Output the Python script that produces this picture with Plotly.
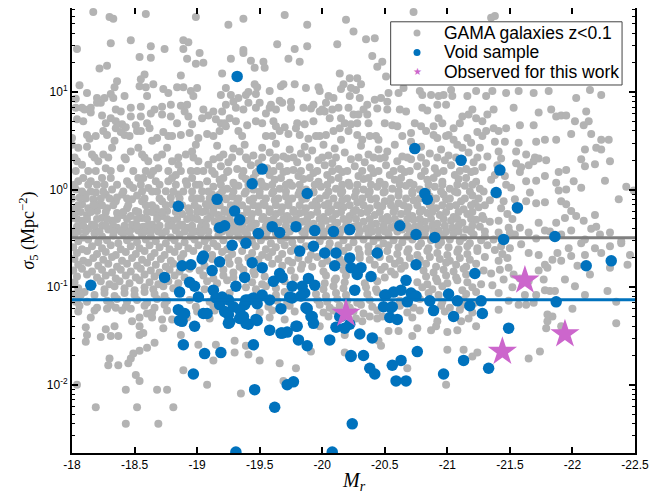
import plotly.graph_objects as go

# ---------------- data (M_r , log10 sigma_5) ----------------
gama_top_left = [
    (-18.17,1.82),(-18.30,1.77),(-18.33,1.75),(-18.59,1.80),(-18.99,1.77),
    (-18.04,1.44),(-18.31,1.50),(-18.47,1.53),(-18.63,1.47),(-18.74,1.44),(-18.89,1.53),(-18.93,1.51),(-18.89,1.44),(-19.02,1.40),
    (-18.54,1.36),(-18.63,1.35),(-18.92,1.34),(-18.99,1.29),(-19.05,1.30),(-18.22,1.24),(-18.28,1.27),
    (-18.58,1.18),(-18.55,1.13),(-18.87,1.17),(-18.36,1.11),(-18.34,1.05),(-18.59,1.05),(-18.65,1.08),(-18.06,1.07),
    (-18.12,0.99),(-18.20,0.94),(-18.23,0.89),(-18.26,0.94),(-18.31,0.98),(-18.33,0.94),(-18.42,0.96),(-18.54,1.06),(-18.60,0.96),
    (-18.73,1.03),(-18.77,0.99),(-18.84,1.05),(-18.89,1.05),(-18.95,1.01),(-19.00,1.04),(-18.97,0.96),
    (-18.03,0.93),(-18.03,0.84),(-18.08,0.84),(-18.15,0.84),(-18.15,0.79),(-18.20,0.89),(-18.24,0.76),(-18.31,0.73),(-18.35,0.70),
    (-18.39,0.80),(-18.40,0.67),(-18.43,0.64),(-18.47,0.84),(-18.47,0.75),(-18.55,0.85),(-18.55,0.75),(-18.63,0.78),(-18.72,0.85),
    (-18.72,0.77),(-18.79,0.87),(-18.79,0.75),(-18.87,0.86),(-18.90,0.80),(-18.92,0.87),(-18.93,0.75),(-18.96,0.67),(-19.04,0.73),
    (-19.09,0.76),(-18.04,0.72),(-18.09,0.70),
    (-18.00,0.53),(-18.12,0.56),(-18.14,0.52),(-18.25,0.60),(-18.28,0.56),(-18.34,0.50),(-18.35,0.63),(-18.39,0.59),(-18.42,0.56),
    (-18.51,0.66),(-18.52,0.60),(-18.55,0.60),(-18.62,0.63),(-18.64,0.50),(-18.68,0.53),(-18.73,0.59),(-18.80,0.55),(-18.87,0.56),
    (-18.94,0.58),(-18.99,0.46),(-19.01,0.53),(-19.08,0.57),
]
gama_top_mid = [
    (-19.25,1.69),(-19.37,1.75),(-19.70,1.79),(-19.88,1.69),(-20.19,1.74),(-20.25,1.62),
    (-19.64,1.49),(-19.78,1.44),(-19.88,1.47),(-20.12,1.49),(-19.37,1.43),(-19.37,1.40),(-19.27,1.34),(-19.43,1.32),(-19.53,1.31),
    (-19.54,1.25),(-19.46,1.25),(-19.73,1.34),(-19.82,1.31),
    (-19.20,1.19),(-20.14,1.19),(-20.22,1.14),(-20.17,1.08),(-19.23,1.04),(-19.19,0.97),(-19.27,0.97),(-19.33,0.94),(-19.39,0.97),
    (-19.41,1.00),(-19.46,1.08),(-19.48,1.05),(-19.47,0.98),(-19.58,1.01),(-19.67,1.06),(-19.69,1.08),(-19.78,1.08),(-19.87,1.04),
    (-19.97,1.05),(-19.98,1.01),(-20.05,0.96),(-20.15,1.03),(-20.23,1.04),(-20.22,0.96),(-20.09,0.94),
    (-19.23,0.87),(-19.20,0.80),(-19.29,0.90),(-19.31,0.84),(-19.41,0.89),(-19.47,0.84),(-19.50,0.89),(-19.58,0.84),(-19.59,0.87),
    (-19.66,0.91),(-19.68,0.89),(-19.75,0.90),(-19.75,0.84),(-19.85,0.84),(-19.91,0.83),(-19.93,0.87),(-19.98,0.80),(-20.02,0.80),
    (-20.03,0.89),(-20.08,0.82),(-20.06,0.73),(-20.13,0.84),(-20.15,0.73),(-20.21,0.84),(-20.25,0.77),
    (-19.13,0.80),(-19.15,0.72),(-19.19,0.68),(-19.26,0.73),(-19.23,0.65),(-19.18,0.60),(-19.31,0.70),(-19.33,0.60),(-19.40,0.66),
    (-19.47,0.70),(-19.55,0.78),(-19.61,0.70),(-19.63,0.65),(-19.55,0.55),(-19.66,0.60),(-19.70,0.64),(-19.73,0.57),(-19.79,0.63),
    (-19.82,0.56),(-19.86,0.67),(-19.89,0.52),(-19.93,0.70),(-19.98,0.55),(-20.03,0.56),(-20.09,0.60),(-20.14,0.63),(-20.15,0.51),
    (-20.21,0.60),(-20.23,0.67),
]
gama_top_right = [
    (-20.35,1.54),(-20.42,1.55),(-20.73,1.82),(-21.35,1.76),(-21.38,1.78),(-20.40,1.37),(-20.44,1.26),(-20.48,1.31),(-20.51,1.16),
    (-20.28,1.14),(-20.31,1.08),(-20.27,1.02),(-20.30,0.94),(-20.36,0.87),(-20.42,0.92),(-20.47,0.94),(-20.53,0.99),(-20.61,0.99),
    (-20.65,1.04),(-20.78,1.01),(-20.80,0.97),(-20.87,0.97),(-20.93,0.96),(-20.97,0.97),(-21.03,1.02),(-21.04,0.96),(-21.16,0.96),
    (-21.23,1.01),(-21.31,0.96),(-21.36,1.01),
    (-20.52,0.90),(-20.44,0.83),(-20.52,0.82),(-20.36,0.77),(-20.29,0.77),(-20.67,0.80),(-20.80,0.84),(-20.84,0.81),(-20.93,0.73),
    (-20.92,0.87),(-20.99,0.87),(-21.12,0.75),(-21.17,0.77),(-21.23,0.73),(-21.28,0.70),(-21.32,0.77),(-21.37,0.82),
    (-20.28,0.68),(-20.37,0.68),(-20.56,0.66),(-20.60,0.65),(-20.79,0.65),(-20.89,0.65),(-20.96,0.68),(-21.05,0.63),(-21.24,0.59),
    (-21.31,0.60),(-21.37,0.63),(-20.28,0.56),(-20.32,0.51),(-20.43,0.55),(-20.45,0.51),(-20.71,0.58),(-20.71,0.49),(-20.83,0.60),
    (-20.89,0.56),(-20.92,0.53),(-21.01,0.56),(-21.05,0.51),(-21.16,0.53),(-21.19,0.48),(-21.12,0.43),
    (-21.47,0.99),(-21.57,1.01),(-21.69,0.99),(-21.81,1.01),(-22.03,0.94),(-22.14,1.02),(-22.23,0.97),
    (-21.53,0.84),(-21.73,0.79),(-21.83,0.82),(-21.87,0.75),(-21.91,0.76),(-21.95,0.76),(-22.02,0.70),(-22.09,0.66),(-22.13,0.70),
    (-22.11,0.80),(-21.41,0.60),(-21.47,0.63),(-21.58,0.66),(-21.69,0.66),(-21.99,0.57),(-22.15,0.57),(-22.23,0.51),(-22.29,0.51),
    (-21.38,0.49),(-21.46,0.49),(-21.57,0.48),(-21.71,0.49),(-21.78,0.51),(-21.87,0.51),(-22.10,0.41),(-22.19,0.43),(-22.23,0.41),
]
gama_mid_left = [
    (-18.00,0.46),(-18.05,0.43),(-18.12,0.44),(-18.16,0.36),(-18.04,0.29),(-18.08,0.255),(-18.13,0.19),(-18.21,0.29),(-18.25,0.36),
    (-18.32,0.43),(-18.27,0.22),(-18.24,0.12),(-18.20,0.05),(-18.15,0.085),(-18.05,0.085),(-18.03,0.0),(-18.11,-0.05),(-18.17,-0.10),
    (-18.08,-0.15),(-18.03,-0.19),(-18.13,-0.19),(-18.21,-0.15),(-18.27,-0.05),(-18.32,0.0),(-18.28,-0.19),(-18.35,-0.12),(-18.40,-0.05),
    (-18.44,0.085),(-18.39,0.22),(-18.43,0.31),(-18.47,0.39),(-18.53,0.43),(-18.56,0.36),(-18.61,0.29),(-18.59,0.19),(-18.53,0.12),
    (-18.49,0.016),(-18.48,-0.10),(-18.44,-0.19),(-18.51,-0.22),(-18.56,-0.12),(-18.61,0.016),(-18.67,0.085),(-18.63,0.15),(-18.69,0.22),
    (-18.72,0.36),(-18.76,0.43),(-18.80,0.29),(-18.85,0.255),(-18.83,0.15),(-18.77,0.085),(-18.75,-0.018),(-18.72,-0.12),(-18.67,-0.19),
    (-18.80,-0.15),(-18.85,-0.05),(-18.91,0.085),(-18.95,0.19),(-18.91,0.36),(-18.96,0.39),(-19.01,0.29),(-19.05,0.19),(-19.09,0.255),
    (-19.08,0.085),(-19.04,-0.018),(-18.99,0.05),(-18.96,-0.09),(-18.93,-0.19),(-19.01,-0.19),(-19.07,-0.15),(-19.12,-0.05),
    (-18.00,-0.29),(-18.08,-0.32),(-18.16,-0.36),(-18.24,-0.29),(-18.32,-0.32),(-18.40,-0.26),(-18.48,-0.36),(-18.56,-0.29),(-18.64,-0.36),
    (-18.72,-0.27),(-18.80,-0.32),(-18.88,-0.36),(-18.96,-0.29),(-19.04,-0.34),(-19.11,-0.27),(-18.05,-0.43),(-18.19,-0.43),(-18.29,-0.41),
    (-18.43,-0.43),(-18.53,-0.42),(-18.69,-0.43),(-18.83,-0.42),(-18.99,-0.43),(-19.09,-0.43),
    (-18.06,-0.08),(-18.19,-0.03),(-18.36,-0.08),(-18.52,-0.06),(-18.64,-0.02),(-18.79,-0.08),(-18.89,-0.02),(-19.03,-0.09),
    (-18.02,-0.24),(-18.12,-0.26),(-18.20,-0.22),(-18.36,-0.24),(-18.47,-0.27),(-18.60,-0.23),(-18.68,-0.26),(-18.76,-0.22),(-18.88,-0.25),
    (-19.00,-0.23),(-19.07,-0.22),(-18.04,-0.38),(-18.13,-0.40),(-18.24,-0.37),(-18.36,-0.39),(-18.48,-0.40),(-18.57,-0.38),(-18.66,-0.40),
    (-18.77,-0.37),(-18.92,-0.39),(-19.03,-0.38),
]
gama_mid_fill = [
    (-19.16,0.45),(-19.29,0.42),(-19.38,0.46),(-19.52,0.43),(-19.63,0.47),(-19.74,0.41),(-19.86,0.44),(-20.01,0.46),(-20.10,0.42),
    (-20.31,0.45),(-20.45,0.41),(-20.58,0.46),(-20.79,0.44),(-20.95,0.41),(-21.08,0.46),(-21.26,0.43),
    (-19.21,0.36),(-19.34,0.39),(-19.45,0.35),(-19.58,0.38),(-19.69,0.34),(-19.83,0.37),(-19.92,0.40),(-20.05,0.35),(-20.18,0.38),
    (-20.37,0.36),(-20.52,0.39),(-20.64,0.34),(-20.86,0.37),(-21.01,0.35),(-21.17,0.38),(-21.32,0.34),
    (-19.13,0.31),(-19.25,0.28),(-19.40,0.31),(-19.49,0.27),(-19.61,0.30),(-19.72,0.32),(-19.80,0.28),(-19.97,0.30),(-20.08,0.27),
    (-20.23,0.31),(-20.34,0.28),(-20.46,0.32),(-20.60,0.29),(-20.71,0.31),(-20.83,0.27),(-20.98,0.30),(-21.12,0.31),(-21.21,0.28),
    (-19.19,0.24),(-19.32,0.21),(-19.43,0.25),(-19.56,0.22),(-19.66,0.24),(-19.77,0.20),(-19.90,0.23),(-20.02,0.25),(-20.13,0.21),
    (-20.26,0.24),(-20.39,0.22),(-20.51,0.25),(-20.63,0.21),(-20.76,0.24),(-20.90,0.22),(-21.03,0.25),(-21.15,0.21),(-21.28,0.23),
    (-19.14,0.16),(-19.24,0.18),(-19.36,0.14),(-19.47,0.17),(-19.58,0.15),(-19.69,0.18),(-19.81,0.14),(-19.93,0.17),(-20.04,0.15),
    (-20.16,0.18),(-20.29,0.14),(-20.41,0.17),(-20.54,0.15),(-20.66,0.18),(-20.79,0.14),(-20.92,0.17),(-21.06,0.15),(-21.19,0.18),
    (-19.18,0.10),(-19.29,0.07),(-19.39,0.11),(-19.51,0.08),(-19.62,0.10),(-19.74,0.07),(-19.85,0.11),(-19.97,0.08),(-20.07,0.10),
    (-20.21,0.07),(-20.33,0.11),(-20.46,0.08),(-20.58,0.10),(-20.70,0.07),(-20.84,0.10),(-20.96,0.08),(-21.09,0.11),(-21.23,0.08),(-21.35,0.10),
    (-19.13,0.03),(-19.24,0.01),(-19.33,0.04),(-19.45,0.00),(-19.55,0.03),(-19.66,0.01),(-19.76,0.04),(-19.87,0.00),(-19.99,0.03),
    (-20.11,0.01),(-20.22,0.04),(-20.33,0.00),(-20.44,0.03),(-20.56,0.01),(-20.67,0.04),(-20.78,0.00),(-20.90,0.03),(-21.02,0.01),
    (-21.14,0.04),(-21.26,0.01),
    (-19.18,-0.05),(-19.28,-0.07),(-19.38,-0.04),(-19.50,-0.06),(-19.60,-0.04),(-19.71,-0.07),(-19.81,-0.05),(-19.93,-0.03),(-20.03,-0.06),
    (-20.15,-0.04),(-20.26,-0.07),(-20.37,-0.05),(-20.49,-0.03),(-20.61,-0.06),(-20.72,-0.04),(-20.86,-0.07),(-20.97,-0.05),(-21.08,-0.03),
    (-21.20,-0.06),
    (-19.14,-0.12),(-19.23,-0.10),(-19.32,-0.13),(-19.42,-0.11),(-19.53,-0.14),(-19.62,-0.11),(-19.73,-0.13),(-19.84,-0.10),(-19.95,-0.12),
    (-20.05,-0.14),(-20.16,-0.11),(-20.28,-0.13),(-20.39,-0.10),(-20.50,-0.12),(-20.61,-0.14),(-20.73,-0.11),(-20.87,-0.13),(-20.99,-0.10),
    (-21.11,-0.12),(-21.22,-0.14),(-21.34,-0.11),
    (-19.13,-0.19),(-19.22,-0.21),(-19.31,-0.18),(-19.40,-0.20),(-19.49,-0.17),(-19.58,-0.20),(-19.68,-0.18),(-19.77,-0.21),(-19.87,-0.19),
    (-19.96,-0.17),(-20.07,-0.20),(-20.17,-0.18),(-20.27,-0.21),(-20.38,-0.19),(-20.48,-0.17),(-20.58,-0.20),(-20.69,-0.18),(-20.80,-0.21),
    (-20.91,-0.19),(-21.02,-0.17),(-21.13,-0.20),(-21.25,-0.18),
    (-19.17,-0.26),(-19.26,-0.24),(-19.36,-0.27),(-19.44,-0.25),(-19.53,-0.28),(-19.63,-0.25),(-19.72,-0.27),(-19.82,-0.24),(-19.91,-0.26),
    (-20.01,-0.28),(-20.11,-0.25),(-20.22,-0.27),(-20.31,-0.24),(-20.42,-0.26),(-20.52,-0.28),(-20.63,-0.25),(-20.72,-0.27),(-20.84,-0.24),
    (-20.94,-0.26),(-21.05,-0.28),(-21.16,-0.25),(-21.28,-0.27),
    (-19.14,-0.33),(-19.21,-0.31),(-19.30,-0.34),(-19.39,-0.32),(-19.47,-0.35),(-19.57,-0.32),(-19.65,-0.34),(-19.74,-0.31),(-19.84,-0.33),
    (-19.93,-0.35),(-20.03,-0.32),(-20.12,-0.34),(-20.21,-0.31),(-20.33,-0.33),(-20.43,-0.35),(-20.53,-0.32),(-20.62,-0.34),(-20.73,-0.31),
    (-20.82,-0.33),(-20.92,-0.35),(-21.03,-0.32),(-21.12,-0.34),(-21.23,-0.31),(-21.34,-0.33),
    (-19.16,-0.40),(-19.25,-0.38),(-19.34,-0.41),(-19.42,-0.39),(-19.52,-0.42),(-19.61,-0.39),(-19.70,-0.41),(-19.79,-0.38),(-19.88,-0.40),
    (-19.97,-0.42),(-20.06,-0.39),(-20.16,-0.41),(-20.25,-0.38),(-20.35,-0.40),(-20.45,-0.42),(-20.55,-0.39),(-20.64,-0.41),(-20.74,-0.38),
    (-20.83,-0.40),(-20.93,-0.42),(-21.04,-0.39),(-21.15,-0.41),(-21.26,-0.38),
]
# extra galaxies of the crowded band, one log10(sigma_5) level per row
gama_fill_levels = [0.82, 0.68, 0.55, 0.33, 0.19, 0.12, 0.05, -0.02, -0.09, -0.16, -0.23, -0.30, -0.37, -0.43]
gama_fill_rows = [
    [-18.10,-18.35,-18.66,-19.05,-19.37,-19.63,-20.00,-20.33,-20.62,-21.20],
    [-18.27,-18.60,-18.84,-19.22,-19.52,-19.80,-20.18,-20.50,-20.74,-21.10],
    [-18.19,-18.46,-18.77,-19.13,-19.36,-19.60,-19.95,-20.38,-20.64,-20.99,-21.28],
    [-18.02,-18.18,-18.29,-18.42,-18.58,-18.68,-18.85,-18.97,-19.18,-19.28,-19.39,-19.52,-19.63,-19.77,-19.88,-20.00,-20.11,-20.29,-20.41,-20.50,-20.68,-20.79,-20.92,-21.07,-21.24],
    [-18.03,-18.19,-18.31,-18.49,-18.65,-18.77,-18.87,-19.00,-19.12,-19.25,-19.37,-19.49,-19.61,-19.72,-19.83,-19.96,-20.08,-20.20,-20.32,-20.45,-20.57,-20.70,-20.82,-20.97,-21.10,-21.22],
    [-18.09,-18.31,-18.57,-18.80,-18.96,-19.21,-19.45,-19.67,-19.90,-20.13,-20.37,-20.63,-20.89,-21.15],
    [-18.02,-18.13,-18.26,-18.36,-18.46,-18.55,-18.70,-18.83,-18.92,-19.02,-19.19,-19.30,-19.41,-19.52,-19.60,-19.71,-19.82,-19.94,-20.04,-20.16,-20.28,-20.39,-20.50,-20.62,-20.73,-20.85,-20.96,-21.08,-21.20],
    [-18.08,-18.15,-18.25,-18.41,-18.56,-18.68,-18.81,-18.96,-19.09,-19.20,-19.29,-19.39,-19.50,-19.61,-19.71,-19.82,-19.93,-20.05,-20.16,-20.27,-20.38,-20.50,-20.61,-20.72,-20.84,-20.95,-21.06,-21.18,-21.29],
    [-18.00,-18.11,-18.23,-18.30,-18.44,-18.58,-18.70,-18.86,-19.00,-19.10,-19.23,-19.33,-19.45,-19.55,-19.65,-19.76,-19.87,-19.98,-20.09,-20.20,-20.32,-20.43,-20.55,-20.67,-20.78,-20.91,-21.02,-21.14,-21.25],
    [-18.05,-18.17,-18.24,-18.33,-18.45,-18.59,-18.64,-18.75,-18.88,-18.98,-19.09,-19.18,-19.27,-19.36,-19.45,-19.54,-19.63,-19.73,-19.82,-19.92,-20.02,-20.12,-20.22,-20.33,-20.44,-20.55,-20.65,-20.76,-20.86,-20.96,-21.07,-21.19,-21.30],
    [-18.07,-18.15,-18.27,-18.41,-18.53,-18.64,-18.72,-18.83,-18.94,-19.04,-19.13,-19.22,-19.31,-19.40,-19.49,-19.58,-19.67,-19.77,-19.86,-19.96,-20.05,-20.15,-20.25,-20.36,-20.46,-20.57,-20.68,-20.78,-20.88,-20.99,-21.09,-21.20],
    [-18.04,-18.12,-18.20,-18.28,-18.36,-18.44,-18.52,-18.60,-18.68,-18.76,-18.84,-18.92,-19.00,-19.08,-19.19,-19.26,-19.35,-19.43,-19.52,-19.61,-19.69,-19.79,-19.88,-19.98,-20.08,-20.17,-20.27,-20.38,-20.48,-20.58,-20.68,-20.78,-20.87,-20.97,-21.08,-21.19,-21.29],
    [-18.09,-18.18,-18.27,-18.33,-18.42,-18.52,-18.61,-18.70,-18.80,-18.86,-18.96,-19.07,-19.18,-19.29,-19.36,-19.44,-19.55,-19.62,-19.71,-19.80,-19.89,-19.99,-20.10,-20.19,-20.29,-20.39,-20.49,-20.58,-20.68,-20.78,-20.88,-20.98,-21.09,-21.20],
    [-18.01,-18.11,-18.22,-18.33,-18.39,-18.46,-18.58,-18.63,-18.75,-18.90,-18.96,-19.04,-19.20,-19.30,-19.38,-19.47,-19.56,-19.65,-19.74,-19.84,-19.93,-20.02,-20.12,-20.21,-20.30,-20.40,-20.50,-20.60,-20.70,-20.79,-20.89,-20.99,-21.09,-21.19,-21.30],
]
gama_mid_right = [
    (-21.41,0.39),(-21.43,0.32),(-21.55,0.39),(-21.63,0.36),(-21.70,0.33),(-21.55,0.27),(-21.59,0.23),(-21.65,0.25),(-21.69,0.29),
    (-21.73,0.32),(-21.79,0.30),(-21.89,0.18),(-21.95,0.20),(-22.07,0.31),(-22.10,0.24),(-22.18,0.26),(-22.30,0.29),
    (-21.63,0.085),(-21.71,0.09),(-21.78,0.14),(-21.87,0.07),(-21.89,-0.01),(-21.95,0.0),(-22.01,0.085),(-22.07,0.02),(-22.26,0.09),
    (-22.43,0.03),(-22.49,-0.01),(-22.37,-0.10),(-21.51,0.02),(-21.54,-0.10),(-21.63,-0.12),(-21.66,-0.03),(-21.71,-0.14),(-21.78,-0.13),
    (-21.91,-0.12),(-21.99,-0.22),(-21.95,-0.15),(-22.03,-0.27),(-21.94,-0.29),(-21.87,-0.34),(-22.09,-0.32),(-22.18,-0.26),(-22.19,-0.38),
    (-21.43,-0.19),(-21.41,-0.32),(-21.49,-0.39),(-21.58,-0.39),(-21.73,-0.34),(-21.82,-0.43),(-21.46,0.14),(-21.40,-0.05),(-21.48,-0.25),
    (-21.47,0.05),(-21.52,-0.30),(-21.45,-0.12),(-21.58,0.18),(-21.40,0.25),(-21.50,-0.44),(-21.38,0.15),(-21.56,-0.21),
]
gama_core = [
    (-18.02,-0.46),(-18.09,-0.49),(-18.18,-0.45),(-18.24,-0.48),(-18.33,-0.47),(-18.41,-0.45),(-18.47,-0.49),(-18.56,-0.46),(-18.63,-0.48),
    (-18.72,-0.45),(-18.79,-0.49),(-18.86,-0.46),(-18.95,-0.48),(-19.03,-0.45),(-19.09,-0.49),(-19.17,-0.47),(-19.26,-0.45),(-19.33,-0.48),
    (-19.40,-0.46),(-19.55,-0.48),(-19.63,-0.45),(-19.71,-0.49),(-19.86,-0.46),(-20.01,-0.48),(-20.14,-0.45),(-20.29,-0.47),(-20.37,-0.45),
    (-20.45,-0.49),(-20.53,-0.46),(-20.68,-0.48),(-20.82,-0.45),(-20.97,-0.47),(-21.05,-0.45),(-21.13,-0.49),(-21.21,-0.46),(-21.30,-0.48),
    (-18.05,-0.53),(-18.13,-0.51),(-18.21,-0.54),(-18.28,-0.52),(-18.37,-0.55),(-18.44,-0.52),(-18.52,-0.54),(-18.59,-0.51),(-18.67,-0.53),
    (-18.75,-0.55),(-18.82,-0.52),(-18.90,-0.54),(-18.98,-0.51),(-19.06,-0.53),(-19.13,-0.55),(-19.21,-0.52),(-19.36,-0.51),(-19.44,-0.54),
    (-19.51,-0.52),(-19.59,-0.55),(-19.67,-0.52),(-19.76,-0.54),(-19.83,-0.51),(-19.98,-0.53),(-20.06,-0.55),(-20.17,-0.52),(-20.25,-0.54),
    (-20.33,-0.51),(-20.41,-0.53),(-20.49,-0.55),(-20.57,-0.52),(-20.64,-0.54),(-20.72,-0.51),(-20.79,-0.55),(-20.87,-0.52),(-20.95,-0.54),
    (-21.02,-0.51),(-21.10,-0.53),(-21.18,-0.55),(-21.27,-0.52),
    (-18.01,-0.59),(-18.08,-0.61),(-18.16,-0.58),(-18.24,-0.60),(-18.31,-0.57),(-18.39,-0.61),(-18.47,-0.58),(-18.54,-0.60),(-18.62,-0.57),
    (-18.70,-0.59),(-18.78,-0.61),(-18.85,-0.58),(-18.93,-0.60),(-19.01,-0.57),(-19.08,-0.60),(-19.16,-0.58),(-19.24,-0.61),(-19.47,-0.58),
    (-19.55,-0.61),(-19.63,-0.59),(-19.70,-0.57),(-19.78,-0.60),(-19.87,-0.58),(-20.05,-0.60),(-20.13,-0.57),(-20.21,-0.59),(-20.29,-0.61),
    (-20.37,-0.58),(-20.45,-0.60),(-20.53,-0.57),(-20.61,-0.59),(-20.69,-0.61),(-20.77,-0.58),(-20.85,-0.60),(-20.93,-0.57),(-21.01,-0.59),
    (-21.09,-0.61),(-21.16,-0.58),(-21.24,-0.60),(-21.32,-0.57),
    (-18.04,-0.65),(-18.12,-0.63),(-18.20,-0.66),(-18.27,-0.64),(-18.35,-0.67),(-18.43,-0.64),(-18.51,-0.66),(-18.58,-0.63),(-18.66,-0.65),
    (-18.74,-0.67),(-18.82,-0.64),(-18.89,-0.66),(-18.97,-0.63),(-19.12,-0.67),(-19.20,-0.64),(-19.28,-0.66),(-19.36,-0.63),(-19.44,-0.65),
    (-19.52,-0.67),(-19.60,-0.64),(-19.68,-0.66),(-19.75,-0.63),(-19.91,-0.67),(-20.17,-0.63),(-20.30,-0.66),(-20.37,-0.64),(-20.52,-0.63),
    (-20.60,-0.66),(-20.68,-0.64),(-20.76,-0.67),(-20.84,-0.63),(-20.92,-0.65),(-21.00,-0.67),(-21.08,-0.64),(-21.16,-0.66),(-21.24,-0.63),
    (-18.02,-0.71),(-18.09,-0.73),(-18.17,-0.70),(-18.25,-0.72),(-18.32,-0.69),(-18.40,-0.73),(-18.48,-0.70),(-18.56,-0.72),(-18.63,-0.69),
    (-18.71,-0.71),(-18.79,-0.73),(-18.87,-0.70),(-19.12,-0.71),(-19.25,-0.70),(-19.33,-0.73),(-19.41,-0.70),(-19.49,-0.72),(-19.57,-0.69),
    (-19.65,-0.71),(-19.73,-0.73),(-19.81,-0.70),(-19.89,-0.72),(-19.96,-0.69),(-20.04,-0.73),(-20.14,-0.71),(-20.30,-0.70),(-20.38,-0.72),
    (-20.46,-0.69),(-20.54,-0.71),(-20.62,-0.73),(-20.70,-0.70),(-20.78,-0.72),(-20.86,-0.69),(-20.94,-0.71),(-21.02,-0.73),(-21.10,-0.70),
    (-21.18,-0.72),(-21.30,-0.69),
    (-18.05,-0.77),(-18.13,-0.75),(-18.21,-0.78),(-18.29,-0.76),(-18.36,-0.79),(-18.44,-0.76),(-18.52,-0.78),(-18.60,-0.75),(-18.67,-0.77),
    (-18.75,-0.79),(-18.81,-0.76),(-19.06,-0.78),(-19.26,-0.76),(-19.34,-0.79),(-19.60,-0.76),(-19.68,-0.78),(-19.76,-0.75),(-19.84,-0.77),
    (-19.92,-0.79),(-20.00,-0.76),(-20.17,-0.75),(-20.42,-0.77),(-20.50,-0.79),(-20.58,-0.76),(-20.66,-0.78),(-20.83,-0.76),(-20.91,-0.79),
    (-20.99,-0.75),(-21.07,-0.77),(-21.15,-0.79),(-21.23,-0.76),
    (-18.01,-0.83),(-18.08,-0.81),(-18.16,-0.84),(-18.24,-0.82),(-18.32,-0.85),(-18.39,-0.82),(-18.47,-0.84),(-18.55,-0.81),(-18.63,-0.83),
    (-18.70,-0.85),(-18.78,-0.82),(-18.86,-0.84),(-18.94,-0.81),(-19.02,-0.83),(-19.21,-0.82),(-19.29,-0.85),(-19.37,-0.82),(-19.45,-0.84),
    (-19.53,-0.81),(-19.75,-0.83),(-19.83,-0.81),(-20.01,-0.84),(-20.17,-0.82),(-20.47,-0.82),(-20.55,-0.84),(-20.63,-0.81),(-20.81,-0.83),
    (-20.89,-0.85),(-20.97,-0.82),(-21.05,-0.84),(-21.13,-0.81),(-21.29,-0.83),
    (-18.04,-0.89),(-18.12,-0.87),(-18.20,-0.90),(-18.27,-0.88),(-18.35,-0.91),(-18.43,-0.88),(-18.51,-0.90),(-18.58,-0.87),(-18.66,-0.89),
    (-18.82,-0.88),(-18.90,-0.90),(-19.05,-0.88),(-19.13,-0.91),(-19.21,-0.88),(-19.29,-0.90),(-19.46,-0.87),(-19.54,-0.89),(-19.78,-0.90),
    (-20.03,-0.88),(-20.11,-0.91),(-20.19,-0.88),(-20.50,-0.90),(-20.58,-0.87),(-20.83,-0.89),(-20.91,-0.91),(-20.99,-0.88),(-21.07,-0.90),
    (-21.15,-0.87),
    (-18.02,-0.95),(-18.23,-0.94),(-18.30,-0.97),(-18.38,-0.94),(-18.46,-0.96),(-18.54,-0.93),(-18.62,-0.95),(-18.69,-0.97),(-18.77,-0.94),
    (-18.85,-0.96),(-19.08,-0.94),(-19.16,-0.96),(-19.24,-0.93),(-19.44,-0.95),(-19.52,-0.97),(-19.70,-0.94),(-20.02,-0.96),(-20.10,-0.93),
    (-20.18,-0.95),(-20.34,-0.96),(-20.44,-0.94),(-20.76,-0.95),(-20.84,-0.97),(-20.92,-0.94),(-21.00,-0.96),(-21.08,-0.93),(-21.16,-0.95),
    (-21.27,-0.97),
    (-18.05,-1.01),(-18.26,-1.02),(-18.34,-0.99),(-18.42,-1.01),(-18.50,-1.03),(-18.58,-1.00),(-18.65,-1.02),(-18.73,-0.99),(-18.81,-1.01),
    (-19.06,-1.02),(-19.39,-1.00),(-19.47,-1.02),(-19.55,-0.99),(-19.63,-1.01),(-20.01,-1.02),(-20.09,-0.99),(-20.17,-1.01),(-20.35,-1.00),
    (-20.43,-1.02),(-20.80,-1.00),(-20.88,-1.02),(-20.96,-0.99),(-21.12,-1.03),(-21.20,-1.00),
    (-18.02,-1.07),(-18.10,-1.05),(-18.18,-1.08),(-18.26,-1.06),(-18.34,-1.09),(-18.42,-1.06),(-18.50,-1.08),(-18.58,-1.05),(-18.66,-1.07),
    (-18.74,-1.09),(-19.26,-1.06),(-19.63,-1.08),(-19.70,-1.05),(-19.95,-1.07),(-20.03,-1.09),(-20.11,-1.06),(-20.19,-1.08),(-20.36,-1.07),
    (-20.44,-1.05),(-20.85,-1.06),(-20.93,-1.08),(-21.15,-1.07),(-21.23,-1.05),
    (-18.04,-1.13),(-18.12,-1.15),(-18.28,-1.14),(-18.36,-1.12),(-18.44,-1.15),(-18.52,-1.13),(-18.60,-1.16),(-18.68,-1.12),(-18.76,-1.14),
    (-18.94,-1.13),(-19.10,-1.15),(-19.64,-1.14),(-19.72,-1.16),(-19.96,-1.13),(-20.04,-1.15),(-20.12,-1.12),(-20.20,-1.14),(-20.28,-1.16),
    (-20.38,-1.13),(-20.62,-1.14),(-20.78,-1.12),(-20.96,-1.15),(-21.13,-1.13),(-21.22,-1.16),
    (-18.06,-1.19),(-18.20,-1.21),(-18.31,-1.18),(-18.43,-1.20),(-18.58,-1.19),(-18.66,-1.21),(-18.74,-1.18),(-18.99,-1.20),(-19.13,-1.19),
    (-19.57,-1.20),(-19.74,-1.19),(-19.98,-1.18),(-20.06,-1.21),(-20.14,-1.19),(-20.22,-1.21),(-20.31,-1.18),(-20.40,-1.20),(-20.62,-1.19),
    (-20.73,-1.21),(-20.95,-1.19),(-21.02,-1.21),(-21.12,-1.18),
    (-18.64,-1.26),(-18.76,-1.24),(-19.00,-1.25),(-19.14,-1.24),(-19.50,-1.26),(-19.60,-1.24),(-19.78,-1.25),(-20.01,-1.26),(-20.09,-1.24),
    (-20.25,-1.25),(-20.33,-1.27),(-20.44,-1.24),(-20.68,-1.26),(-20.78,-1.24),(-20.98,-1.25),(-21.10,-1.23),(-21.20,-1.26),
    (-18.92,-1.31),(-19.10,-1.32),(-19.58,-1.31),(-19.70,-1.33),(-20.05,-1.30),(-20.27,-1.32),(-20.48,-1.30),(-20.72,-1.31),(-21.17,-1.32),
]
gama_core_right = [
    (-21.41,-0.44),(-21.54,-0.46),(-21.65,-0.44),(-21.71,-0.50),(-21.78,-0.42),(-21.91,-0.46),(-21.99,-0.42),(-22.10,-0.51),(-22.15,-0.40),
    (-22.22,-0.46),(-22.30,-0.44),(-22.39,-0.55),(-22.46,-0.67),(-21.43,-0.58),(-21.50,-0.60),(-21.59,-0.56),(-21.65,-0.65),(-21.48,-0.70),
    (-21.41,-0.73),(-21.42,-0.82),(-21.49,-0.80),(-21.53,-0.87),(-21.58,-0.91),(-21.65,-0.94),(-21.80,-0.80),(-21.84,-0.72),(-21.88,-0.65),
    (-21.97,-0.60),(-22.04,-0.78),(-22.07,-0.55),(-21.73,-0.67),(-21.77,-0.92),(-21.82,-1.04),(-21.71,-1.08),(-21.62,-1.08),(-21.41,-1.06),
    (-21.63,-1.18),(-21.73,-0.83),(-21.78,-0.77),(-21.91,-0.73),(-21.99,-0.68),(-22.14,-0.87),(-22.23,-0.65),(-22.30,-0.80),(-22.44,-0.77),
    (-22.39,-0.53),(-22.30,-0.58),(-22.18,-0.60),(-22.10,-0.67),(-22.02,-0.99),(-21.94,-0.92),(-21.78,-1.03),(-21.86,-1.04),(-21.69,-1.16),
    (-21.57,-1.18),(-21.49,-1.14),(-21.41,-1.23),(-22.10,-1.08),(-22.28,-1.04),(-22.35,-1.15),(-22.00,-1.22),
    (-21.38,-0.62),(-21.45,-0.92),(-21.36,-0.98),(-21.52,-1.00),(-21.44,-0.66),(-21.35,-0.86),(-21.37,-0.51),
]
gama_low = [
    (-18.04,-2.00),(-18.19,-2.23),(-18.43,-2.05),(-18.52,-2.23),(-18.43,-2.40),(-18.68,-2.05),(-18.76,-2.05),(-18.69,-2.40),(-18.81,-2.23),
    (-18.54,-1.96),(-18.51,-1.90),(-18.30,-1.73),(-18.29,-1.80),(-18.37,-1.80),(-18.45,-1.78),(-18.47,-1.73),(-18.49,-1.68),(-18.54,-1.65),
    (-18.60,-1.62),(-18.66,-1.57),(-18.11,-1.56),(-18.12,-1.49),(-18.11,-1.41),(-18.15,-1.31),(-18.23,-1.51),(-18.31,-1.50),(-18.37,-1.50),
    (-18.54,-1.49),(-18.57,-1.47),(-18.73,-1.42),(-18.80,-1.33),(-18.87,-1.49),(-18.89,-1.85),(-19.01,-1.59),(-19.08,-2.00),(-18.27,-1.43),
    (-18.34,-1.40),(-18.48,-1.35),(-18.54,-1.40),(-18.64,-1.31),(-18.72,-1.33),(-18.05,-1.25),(-18.18,-1.24),(-18.28,-1.22),(-18.35,-1.21),
    (-18.40,-1.24),(-18.47,-1.22),(-18.54,-1.31),(-18.60,-1.27),(-18.03,-1.15),(-18.07,-1.08),
    (-19.35,-2.09),(-19.66,-1.78),(-19.79,-1.83),(-19.69,-1.96),(-19.50,-1.75),(-19.41,-1.69),(-19.30,-1.67),(-19.30,-1.55),(-19.39,-1.60),
    (-19.15,-1.59),(-19.13,-1.75),(-19.91,-1.66),(-19.98,-1.40),(-20.18,-1.67),(-20.18,-1.49),
    (-21.00,-1.64),(-21.13,-1.64),(-21.20,-1.71),(-21.24,-1.67),(-20.99,-2.00),(-20.68,-1.83),(-20.72,-1.50),(-20.53,-1.45),(-20.61,-1.45),
    (-20.47,-1.60),(-20.45,-1.55),(-20.87,-1.44),(-20.91,-1.40),(-21.00,-1.46),(-21.08,-1.44),(-21.23,-1.40),(-20.32,-1.35),(-20.38,-1.30),
    (-20.44,-1.32),(-20.76,-1.42),(-20.92,-1.35),(-21.11,-1.35),
    (-21.65,-1.73),(-21.74,-1.66),(-21.79,-1.42),(-21.80,-1.35),(-21.84,-1.30),(-21.80,-1.28),(-21.91,-1.40),(-22.35,-1.37),
]

void_sample = [
    (-19.32,1.16),(-20.74,0.42),(-21.11,0.30),(-19.52,0.21),(-21.42,0.20),(-19.44,0.06),(-20.82,-0.04),(-20.84,-0.10),(-21.39,-0.03),
    (-19.88,-0.04),(-19.16,-0.10),(-18.85,-0.17),(-21.56,-0.185),(-19.30,-0.22),(-19.34,-0.31),(-19.18,-0.39),(-19.22,-0.37),(-19.49,-0.45),
    (-19.60,-0.38),(-19.66,-0.44),(-19.79,-0.38),(-19.94,-0.42),(-20.09,-0.43),(-20.22,-0.41),(-20.62,-0.37),(-20.75,-0.46),(-20.90,-0.49),
    (-21.45,-0.51),(-21.86,-0.48),(-19.28,-0.57),(-19.39,-0.55),(-19.82,-0.63),(-19.93,-0.58),(-20.02,-0.65),(-20.11,-0.65),(-20.22,-0.70),
    (-20.44,-0.65),(-19.18,-0.74),(-19.44,-0.75),(-19.52,-0.80),(-20.10,-0.78),(-20.23,-0.80),(-20.31,-0.80),(-20.75,-0.77),(-22.11,-0.78),
    (-22.31,-0.73),(-18.88,-0.78),(-18.95,-0.77),(-19.04,-0.71),(-19.05,-0.68),(-19.12,-0.83),(-18.15,-0.98),(-18.74,-0.90),(-19.38,-0.90),
    (-19.31,-0.99),(-18.94,-0.95),(-18.98,-0.99),(-19.61,-0.94),(-19.66,-0.86),(-19.68,-0.90),(-19.76,-0.99),(-19.84,-0.99),(-19.86,-1.06),
    (-19.89,-0.91),(-19.94,-0.98),(-20.28,-0.87),(-20.39,-0.89),(-20.67,-0.93),(-21.22,-0.86),(-18.86,-1.05),(-19.01,-1.10),(-19.13,-1.03),
    (-19.20,-1.10),(-19.76,-1.11),(-20.26,-1.03),(-20.50,-1.08),(-20.57,-1.05),(-20.63,-1.03),(-20.71,-1.06),(-20.75,-1.09),(-21.01,-1.07),
    (-21.08,-1.14),(-21.18,-1.19),(-21.27,-1.14),(-20.86,-1.14),(-20.68,-1.15),(-20.49,-1.20),(-20.56,-1.20),(-21.87,-1.15),(-18.85,-1.23),
    (-18.90,-1.27),(-19.05,-1.27),(-19.08,-1.27),(-19.18,-1.18),(-19.22,-1.25),(-19.25,-1.28),(-19.29,-1.20),(-19.34,-1.23),(-19.38,-1.18),
    (-19.41,-1.13),(-19.45,-1.11),(-19.48,-1.17),(-19.52,-1.08),(-19.58,-1.13),(-19.67,-1.22),(-19.88,-1.22),(-19.92,-1.30),(-19.93,-1.37),
    (-18.88,-1.35),(-18.86,-1.34),(-18.98,-1.40),(-19.26,-1.36),(-19.34,-1.32),(-19.39,-1.37),(-19.48,-1.34),(-19.80,-1.40),(-19.81,-1.54),
    (-19.68,-1.47),(-19.72,-1.46),(-19.58,-1.44),(-20.89,-1.24),(-21.28,-1.27),(-21.05,-1.30),(-20.54,-1.31),(-20.60,-1.33),(-20.11,-1.41),
    (-20.18,-1.42),(-20.14,-1.30),(-20.22,-1.38),(-21.49,-1.42),(-19.45,-1.59),(-19.19,-1.67),(-19.06,-1.68),(-18.89,-1.59),(-20.06,-1.54),
    (-20.30,-1.48),(-20.40,-1.52),(-19.88,-1.60),(-20.23,-1.70),(-20.33,-1.70),(-20.76,-1.66),(-20.63,-1.75),(-20.56,-1.80),(-20.38,-1.83),
    (-20.42,-1.89),(-21.13,-1.75),(-21.33,-1.83),(-20.97,-1.89),(-20.59,-1.96),(-20.67,-1.96),(-18.97,-1.89),(-19.46,-2.05),(-19.72,-2.00),
    (-19.77,-1.97),(-19.62,-2.23),(-20.24,-2.40),(-19.31,-2.69),(-20.08,-2.69),(-19.15,-1.11),(-19.25,-1.13),(-19.39,-1.13),(-19.46,-1.13),
    (-19.74,-1.10),(-19.83,-1.09),(-19.25,-1.37),(-19.37,-1.30),(-19.41,-1.38),(-19.47,-1.33),(-19.67,-1.47),(-19.79,-1.40),(-19.87,-1.21),
    (-19.91,-1.30),(-20.51,-1.08),(-20.55,-1.21),(-20.15,-1.30),(-20.23,-1.71),(-18.89,-1.28),
]

observed_mag = [-20.19, -21.44, -21.62, -21.94]
observed_log_sigma = [-1.27, -1.66, -0.93, -1.48]

gama_median_sigma = 0.321
void_median_sigma = 0.0744

legend_labels = ["GAMA galaxies z&lt;0.1", "Void sample", "Observed for this work"]
x_ticks = [-18, -18.5, -19, -19.5, -20, -20.5, -21, -21.5, -22, -22.5]
x_tick_text = ["-18", "-18.5", "-19", "-19.5", "-20", "-20.5", "-21", "-21.5", "-22", "-22.5"]
y_ticks = [0.01, 0.1, 1, 10]
y_tick_text = ["10<sup>-2</sup>", "10<sup>-1</sup>", "10<sup>0</sup>", "10<sup>1</sup>"]
x_range = [-18, -22.5]
y_log_range = [-2.699, 1.861]

# ---------------- build ----------------
gama_all = (gama_top_left + gama_top_mid + gama_top_right + gama_mid_left + gama_mid_fill +
            gama_mid_right + gama_core + gama_core_right + gama_low)
for lvl, row in zip(gama_fill_levels, gama_fill_rows):
    gama_all += [(m, lvl) for m in row]
gama_x = [p[0] for p in gama_all]
gama_y = [10 ** p[1] for p in gama_all]
void_x = [p[0] for p in void_sample]
void_y = [10 ** p[1] for p in void_sample]
obs_y = [10 ** v for v in observed_log_sigma]

GRAY = "#b3b3b3"
BLUE = "#0072bd"
MAG = "#cc66cc"
SERIF = "Liberation Serif, DejaVu Serif, serif"
SANS = "Liberation Sans, Arial, sans-serif"

fig = go.Figure()
fig.add_trace(go.Scatter(x=gama_x, y=gama_y, mode="markers", name=legend_labels[0], showlegend=False,
                         hoverinfo="skip", marker=dict(size=8, color=GRAY, line=dict(width=0))))
fig.add_trace(go.Scatter(x=x_range, y=[gama_median_sigma] * 2, mode="lines", showlegend=False,
                         line=dict(color="#7f7f7f", width=3), hoverinfo="skip"))
fig.add_trace(go.Scatter(x=void_x, y=void_y, mode="markers", name=legend_labels[1], showlegend=False,
                         hoverinfo="skip", marker=dict(size=11.5, color=BLUE, line=dict(width=0))))
fig.add_trace(go.Scatter(x=x_range, y=[void_median_sigma] * 2, mode="lines", showlegend=False,
                         line=dict(color=BLUE, width=3), hoverinfo="skip"))
fig.add_trace(go.Scatter(x=observed_mag, y=obs_y, mode="markers", name=legend_labels[2], showlegend=False,
                         hoverinfo="skip", marker=dict(size=22, symbol="star", color=MAG, line=dict(width=0))))

# ---- legend box (drawn in paper coordinates) ----
box_x0, box_x1, box_y0, box_y1 = 0.566, 0.977, 0.827, 0.969
sym_x, txt_x = 0.6128, 0.6567
row_y = [0.9438, 0.9000, 0.8562]
shapes = [dict(type="rect", xref="paper", yref="paper", x0=box_x0, x1=box_x1, y0=box_y0, y1=box_y1,
               fillcolor="white", line=dict(color="#444444", width=1), layer="above")]
for ry, col in zip(row_y[:2], [GRAY, BLUE]):
    shapes.append(dict(type="circle", xref="paper", yref="paper", xsizemode="pixel", ysizemode="pixel",
                       xanchor=sym_x, yanchor=ry, x0=-3.5, x1=3.5, y0=-3.5, y1=3.5,
                       fillcolor=col, line=dict(width=0), layer="above"))
annotations = [dict(text="★", xref="paper", yref="paper", x=sym_x, y=row_y[2], xanchor="center", yanchor="middle",
                    showarrow=False, font=dict(size=10, color=MAG, family="DejaVu Sans"))]
for ry, lab in zip(row_y, legend_labels):
    annotations.append(dict(text=lab, xref="paper", yref="paper", x=txt_x, y=ry, xanchor="left", yanchor="middle",
                            showarrow=False, font=dict(size=17.5, family=SANS, color="black")))
annotations += [
    dict(text="<i>M<sub>r</sub></i>", xref="paper", yref="paper", x=0.5, y=-0.064,
         xanchor="center", yanchor="middle", showarrow=False, font=dict(family=SERIF, size=20)),
    dict(text="<i>σ</i><sub>5</sub> (Mpc<sup>−2</sup>)", xref="paper", yref="paper", x=-0.078, y=0.5,
         xanchor="center", yanchor="middle", textangle=-90, showarrow=False, font=dict(family=SERIF, size=18)),
]

minor_vals = [k * 10 ** d for d in range(-3, 2) for k in range(2, 10)]

# the page adds an 8px body margin, so the figure is sized to end at the window edge
fig.update_layout(
    width=653, height=485,
    margin=dict(l=64, r=26, t=0, b=40),
    paper_bgcolor="white", plot_bgcolor="white",
    showlegend=False,
    font=dict(family=SANS, size=12, color="black"),
    shapes=shapes,
    annotations=annotations,
    xaxis=dict(range=x_range, tickvals=x_ticks, ticktext=x_tick_text, automargin=False,
               showgrid=False, zeroline=False, showline=True, linecolor="black", linewidth=2,
               mirror="ticks", ticks="inside", ticklen=6, tickwidth=1.5, tickcolor="black",
               tickfont=dict(size=12)),
    yaxis=dict(type="log", range=y_log_range, tickvals=y_ticks, ticktext=y_tick_text, automargin=False,
               showgrid=False, zeroline=False, showline=True, linecolor="black", linewidth=2,
               mirror="ticks", ticks="inside", ticklen=6, tickwidth=1.5, tickcolor="black",
               tickfont=dict(size=12),
               minor=dict(tickvals=minor_vals, ticks="inside", ticklen=3, tickwidth=1, tickcolor="black", showgrid=False)),
)

fig.write_html("out.html")
